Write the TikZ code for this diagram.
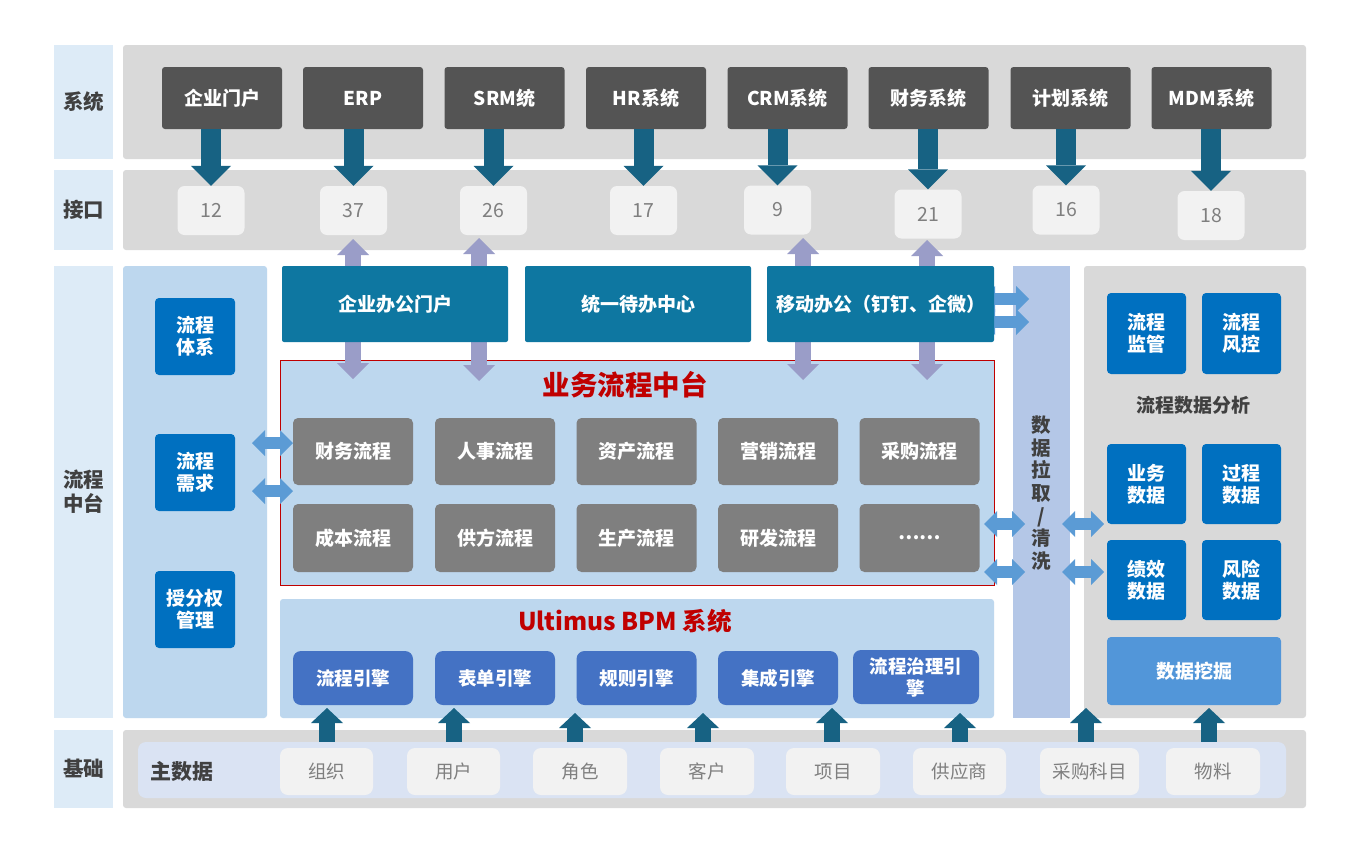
\documentclass[tikz,border=0pt]{standalone}
\usepackage{fontspec}
\setmainfont{Noto Sans CJK SC}
\usetikzlibrary{arrows.meta,calc}
\definecolor{lblcol}{HTML}{DDEBF7}
\definecolor{panelgray}{HTML}{D9D9D9}
\definecolor{sysgray}{HTML}{545454}
\definecolor{darrowc}{HTML}{176283}
\definecolor{numbox}{HTML}{F2F2F2}
\definecolor{numtext}{HTML}{7F7F7F}
\definecolor{portalc}{HTML}{0E77A1}
\definecolor{lightpanel}{HTML}{BDD7EE}
\definecolor{procgray}{HTML}{7F7F7F}
\definecolor{bluebox}{HTML}{0070C0}
\definecolor{enginec}{HTML}{4472C4}
\definecolor{datacol}{HTML}{B4C7E7}
\definecolor{miningc}{HTML}{5296D9}
\definecolor{larrowc}{HTML}{5B9BD5}
\definecolor{parrowc}{HTML}{9A9DC8}
\definecolor{redtitle}{HTML}{C00000}
\definecolor{darktext}{HTML}{404040}
\definecolor{masterbg}{HTML}{DAE3F3}
\tikzset{
  base/.style={rectangle, inner sep=0pt, draw=none, align=center},
  lbl/.style={base, fill=lblcol, minimum width=59pt, text=darktext, font=\bfseries\fontsize{20.5}{24}\selectfont},
  panel/.style={base, rounded corners=3pt},
  sysbox/.style={base, fill=sysgray, rounded corners=3pt, minimum width=120pt, minimum height=62pt, text=white, font=\bfseries\fontsize{19}{23}\selectfont},
  numbx/.style={base, fill=numbox, rounded corners=7pt, minimum width=67pt, minimum height=49pt, text=numtext, font=\fontsize{19.5}{23}\selectfont},
  portalbox/.style={base, fill=portalc, rounded corners=2pt, minimum width=226pt, minimum height=76pt, text=white, font=\bfseries\fontsize{19}{23}\selectfont},
  procbox/.style={base, fill=procgray, rounded corners=5pt, minimum width=120pt, minimum height=67pt, text=white, font=\bfseries\fontsize{19}{23}\selectfont},
  bluebx/.style={base, fill=bluebox, rounded corners=4pt, minimum width=79pt, minimum height=81pt, text=white, font=\bfseries\fontsize{19}{22}\selectfont},
  leftbx/.style={base, fill=bluebox, rounded corners=4pt, minimum width=80pt, minimum height=77pt, text=white, font=\bfseries\fontsize{19}{22}\selectfont},
  enginebx/.style={base, fill=enginec, rounded corners=8pt, minimum width=120pt, minimum height=54pt, text=white, font=\bfseries\fontsize{18.5}{22}\selectfont},
  masterbx/.style={base, fill=numbox, rounded corners=8pt, minimum height=47pt, text=numtext, font=\fontsize{18.5}{22}\selectfont},
  downarr/.style={draw=darrowc, line width=20pt, -{Triangle[width=40pt,length=20pt,line width=0pt]}},
  uparr/.style={draw=darrowc, line width=16pt, -{Triangle[width=32pt,length=15pt,line width=0pt]}},
  purparr/.style={draw=parrowc, line width=16pt, {Triangle[width=32pt,length=16pt,line width=0pt]}-{Triangle[width=32pt,length=16pt,line width=0pt]}},
  ltarr/.style={draw=larrowc, line width=12pt, {Triangle[width=26pt,length=13pt,line width=0pt]}-{Triangle[width=26pt,length=13pt,line width=0pt]}},
}
\begin{document}
\begin{tikzpicture}[x=1pt,y=-1pt]
\useasboundingbox (0,0) rectangle (1360,854);
\fill[white] (0,0) rectangle (1360,854);
% label column
\node[lbl, minimum height=114pt] (l1) at (83.5,102) {系统};
\node[lbl, minimum height=80pt] (l2) at (83.5,210) {接口};
\node[lbl, minimum height=452pt] (l3) at (83.5,492) {流程\\中台};
\node[lbl, minimum height=78pt] (l4) at (83.5,769) {基础};
% panels
\node[panel, fill=panelgray, minimum width=1183pt, minimum height=114pt] (ps) at (714.5,102) {};
\node[panel, fill=panelgray, minimum width=1183pt, minimum height=80pt] (pi) at (714.5,210) {};
\node[panel, fill=lightpanel, minimum width=144pt, minimum height=452pt] (pl) at (195,492) {};
\node[base, fill=datacol, minimum width=57pt, minimum height=452pt] (dc) at (1041.5,492) {};
\node[panel, fill=panelgray, minimum width=222pt, minimum height=452pt] (pr) at (1195,492) {};
\node[rectangle, inner sep=0pt, fill=lightpanel, draw=redtitle, line width=0.8pt, minimum width=714pt, minimum height=225pt] (bz) at (637,472.5) {};
\node[panel, fill=lightpanel, minimum width=714pt, minimum height=119pt] (bpm) at (637,658.5) {};
\node[panel, fill=panelgray, minimum width=1183pt, minimum height=78pt] (pb) at (714.5,769) {};
\node[panel, fill=masterbg, rounded corners=8pt, minimum width=1148pt, minimum height=56pt] (mp) at (712,770) {};
% purple double arrows (behind portals)
\coordinate (pa1t) at (353,239); \coordinate (pa1b) at (353,379);
\coordinate (pa2t) at (479,238); \coordinate (pa2b) at (479,381);
\coordinate (pa3t) at (803,238); \coordinate (pa3b) at (803,380);
\coordinate (pa4t) at (927,240); \coordinate (pa4b) at (927,380);
\draw[purparr] (pa1t) -- (pa1b);
\draw[purparr] (pa2t) -- (pa2b);
\draw[purparr] (pa3t) -- (pa3b);
\draw[purparr] (pa4t) -- (pa4b);
% arrows right of mobile office
\coordinate (ma1l) at (982,299); \coordinate (ma1r) at (1029,299);
\coordinate (ma2l) at (982,322); \coordinate (ma2r) at (1029,322);
\draw[ltarr] (ma1l) -- (ma1r);
\draw[ltarr] (ma2l) -- (ma2r);
% portals
\node[portalbox] (pt1) at (395,304) {企业办公门户};
\node[portalbox] (pt2) at (638,304) {统一待办中心};
\node[portalbox, minimum width=227pt] (pt3) at (880.5,304) {移动办公（钉钉、企微）};
% title
\node[font=\bfseries\fontsize{27.5}{32}\selectfont, text=redtitle] (bzt) at (625,385) {业务流程中台};
% process boxes
\node[procbox] (p1) at (353,451.5) {财务流程};
\node[procbox] (p2) at (495,451.5) {人事流程};
\node[procbox] (p3) at (636.5,451.5) {资产流程};
\node[procbox] (p4) at (778,451.5) {营销流程};
\node[procbox] (p5) at (919.5,451.5) {采购流程};
\node[procbox, minimum height=68pt] (p6) at (353,538) {成本流程};
\node[procbox, minimum height=68pt] (p7) at (495,538) {供方流程};
\node[procbox, minimum height=68pt] (p8) at (636.5,538) {生产流程};
\node[procbox, minimum height=68pt] (p9) at (778,538) {研发流程};
\node[procbox, minimum height=68pt] (p10) at (919.5,538) {……};
% left double arrows
\coordinate (la1l) at (252,443); \coordinate (la1r) at (293,443);
\coordinate (la2l) at (252,491); \coordinate (la2r) at (293,491);
\draw[ltarr] (la1l) -- (la1r);
\draw[ltarr] (la2l) -- (la2r);
% data column double arrows
\coordinate (da1l) at (984,524); \coordinate (da1r) at (1025,524);
\coordinate (da2l) at (984,572); \coordinate (da2r) at (1025,572);
\coordinate (db1l) at (1062,524); \coordinate (db1r) at (1104,524);
\coordinate (db2l) at (1062,572); \coordinate (db2r) at (1104,572);
\draw[ltarr] (da1l) -- (da1r);
\draw[ltarr] (da2l) -- (da2r);
\draw[ltarr] (db1l) -- (db1r);
\draw[ltarr] (db2l) -- (db2r);
\node[align=center, text=darktext, font=\bfseries\fontsize{19.5}{22.7}\selectfont] (dct) at (1041.5,493) {数\\据\\拉\\取\\/\\清\\洗};
% systems
\node[sysbox] (s1) at (222,98) {企业门户};
\node[sysbox] (s2) at (363,98) {ERP};
\node[sysbox] (s3) at (504.5,98) {SRM统};
\node[sysbox] (s4) at (646,98) {HR系统};
\node[sysbox] (s5) at (787.5,98) {CRM系统};
\node[sysbox] (s6) at (928.5,98) {财务系统};
\node[sysbox] (s7) at (1070.5,98) {计划系统};
\node[sysbox] (s8) at (1211.5,98) {MDM系统};
% interface numbers
\node[numbx] (n1) at (211,210.5) {12};
\node[numbx] (n2) at (353.5,210.5) {37};
\node[numbx] (n3) at (493.5,210.5) {26};
\node[numbx] (n4) at (643.5,210.5) {17};
\node[numbx] (n5) at (777.5,210) {9};
\node[numbx] (n6) at (928,214) {21};
\node[numbx] (n7) at (1066,210) {16};
\node[numbx] (n8) at (1211,215.5) {18};
\draw[downarr] (n1.north |- s1.south) -- (n1.north);
\draw[downarr] (n2.north |- s2.south) -- (n2.north);
\draw[downarr] (n3.north |- s3.south) -- (n3.north);
\draw[downarr] (n4.north |- s4.south) -- (n4.north);
\draw[downarr] (n5.north |- s5.south) -- (n5.north);
\draw[downarr] (n6.north |- s6.south) -- (n6.north);
\draw[downarr] (n7.north |- s7.south) -- (n7.north);
\draw[downarr] (n8.north |- s8.south) -- (n8.north);
% right analysis panel
\node[bluebx] (r1) at (1146.5,333.5) {流程\\监管};
\node[bluebx] (r2) at (1241.5,333.5) {流程\\风控};
\node[font=\bfseries\fontsize{19}{23}\selectfont, text=darktext] (rat) at (1193,405) {流程数据分析};
\node[bluebx, minimum height=80pt] (r3) at (1146.5,484) {业务\\数据};
\node[bluebx, minimum height=80pt] (r4) at (1241.5,484) {过程\\数据};
\node[bluebx, minimum height=80pt] (r5) at (1146.5,580) {绩效\\数据};
\node[bluebx, minimum height=80pt] (r6) at (1241.5,580) {风险\\数据};
\node[base, fill=miningc, rounded corners=4pt, minimum width=174pt, minimum height=68pt, text=white, font=\bfseries\fontsize{19}{23}\selectfont] (r7) at (1194,671) {数据挖掘};
% left panel boxes
\node[leftbx] (lb1) at (195,336.5) {流程\\体系};
\node[leftbx] (lb2) at (195,472.5) {流程\\需求};
\node[leftbx] (lb3) at (195,609.5) {授分权\\管理};
% BPM
\node[font=\bfseries\fontsize{24.5}{28}\selectfont, text=redtitle] (bpmt) at (625,621) {Ultimus BPM 系统};
\node[enginebx] (e1) at (353,678) {流程引擎};
\node[enginebx] (e2) at (495,678) {表单引擎};
\node[enginebx] (e3) at (636.5,678) {规则引擎};
\node[enginebx] (e4) at (778,678) {集成引擎};
\node[enginebx, minimum width=126pt] (e5) at (916,677) {流程治理引\\擎};
% master data
\node[font=\bfseries\fontsize{21}{25}\selectfont, text=darktext] (mdt) at (182,772) {主数据};
\node[masterbx, minimum width=93pt] (m1) at (326.5,771.5) {组织};
\node[masterbx, minimum width=93pt] (m2) at (453.5,771.5) {用户};
\node[masterbx, minimum width=94pt] (m3) at (580,771.5) {角色};
\node[masterbx, minimum width=94pt] (m4) at (707,771.5) {客户};
\node[masterbx, minimum width=94pt] (m5) at (833,771.5) {项目};
\node[masterbx, minimum width=93pt] (m6) at (959.5,771.5) {供应商};
\node[masterbx, minimum width=99pt] (m7) at (1089.5,771.5) {采购科目};
\node[masterbx, minimum width=94pt] (m8) at (1213,771.5) {物料};
\coordinate (u1) at (327,708); \coordinate (u2) at (454,708);
\coordinate (u3) at (575,713); \coordinate (u4) at (703,713);
\coordinate (u5) at (832,708); \coordinate (u6) at (960,713);
\coordinate (u7) at (1086,708); \coordinate (u8) at (1209,708);
\draw[uparr] (u1 |- mp.north) -- (u1);
\draw[uparr] (u2 |- mp.north) -- (u2);
\draw[uparr] (u3 |- mp.north) -- (u3);
\draw[uparr] (u4 |- mp.north) -- (u4);
\draw[uparr] (u5 |- mp.north) -- (u5);
\draw[uparr] (u6 |- mp.north) -- (u6);
\draw[uparr] (u7 |- mp.north) -- (u7);
\draw[uparr] (u8 |- mp.north) -- (u8);
\end{tikzpicture}
\end{document}
